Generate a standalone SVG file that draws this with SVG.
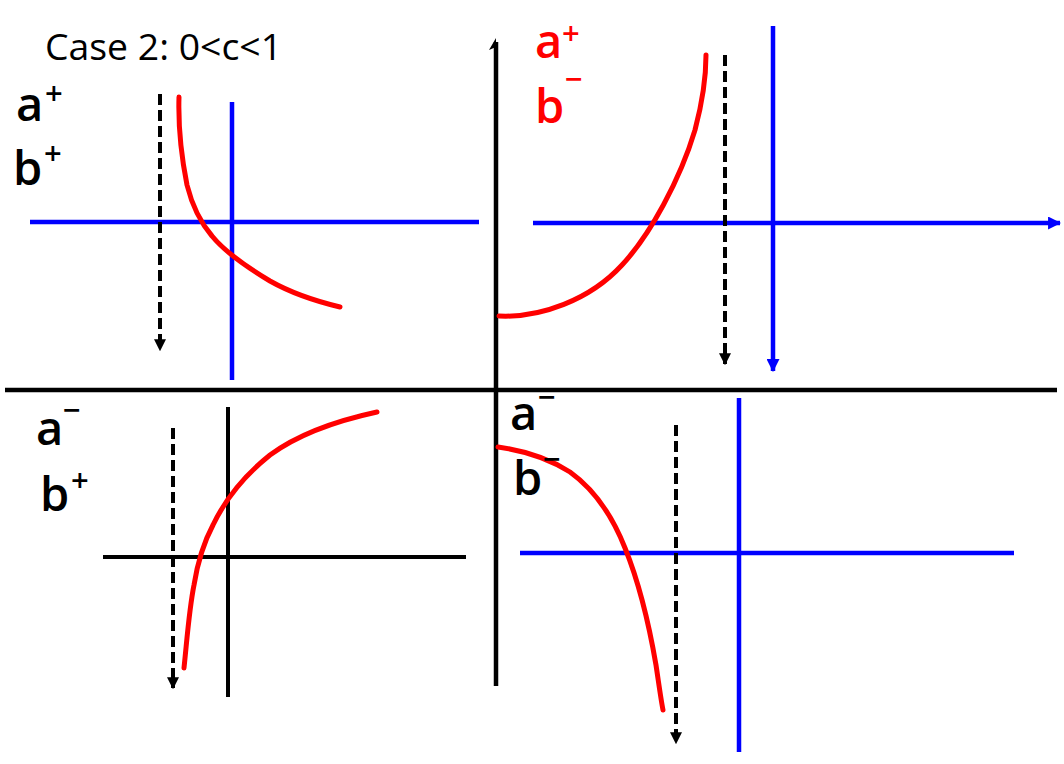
<svg xmlns="http://www.w3.org/2000/svg" width="1064" height="764" viewBox="0 0 1064 764">
<defs>
<style>
.ax{stroke:#000;stroke-width:4.5;fill:none}
.bl{stroke:#0000ff;stroke-width:4.5;fill:none}
.bk{stroke:#000;stroke-width:4;fill:none}
.da{stroke:#000;stroke-width:4;fill:none;stroke-dasharray:11 5}
.rd{stroke:#ff0000;stroke-width:5;fill:none;stroke-linecap:round;stroke-linejoin:round}
.t{font-family:"Open Sans","DejaVu Sans",sans-serif;fill:#000}
.r{fill:#ff0000}
.lbl{font-size:47px;font-weight:600}
.sg{font-size:31px;font-weight:600}
</style>
<marker id="ka" viewBox="0 0 10 10" refX="9" refY="5" markerWidth="12" markerHeight="12" markerUnits="userSpaceOnUse" orient="auto">
<path d="M0,0 L10,5 L0,10 Z" fill="#000"/>
</marker>
<marker id="ba" viewBox="0 0 12 12" refX="11" refY="6" markerWidth="13" markerHeight="13" markerUnits="userSpaceOnUse" orient="auto">
<path d="M0,0 L12,6 L0,12 Z" fill="#0000ff"/>
</marker>
</defs>
<rect width="1064" height="764" fill="#fff"/>
<g id="connectors">
<line class="ax" x1="5" y1="390" x2="1057" y2="390"/>
<line class="ax" x1="496" y1="42" x2="496" y2="686"/>
<path d="M496,38 L489,50 L496,47 Z" fill="#000"/>
<line class="bl" x1="30" y1="222" x2="479" y2="222"/>
<line class="bl" x1="232" y1="102" x2="232" y2="380"/>
<line class="da" x1="160" y1="94" x2="160" y2="350" marker-end="url(#ka)"/>
<path class="rd" d="M179,97 C178,130 182,160 187,185 C192,205 200,222 212,236 C225,252 245,266 270,281 C293,294 315,301 340,307"/>
<line class="bl" x1="533" y1="223" x2="1060" y2="223" marker-end="url(#ba)"/>
<line class="bl" x1="773" y1="26" x2="773" y2="371" marker-end="url(#ba)"/>
<line class="da" x1="725" y1="55" x2="725" y2="364" marker-end="url(#ka)"/>
<path class="rd" d="M499,316 C540,318 590,300 622,265 C650,235 680,180 695,130 C703,100 706,75 706,55"/>
<line class="bk" x1="103" y1="557" x2="466" y2="557"/>
<line class="bk" x1="228" y1="407" x2="228" y2="697"/>
<line class="da" x1="173" y1="428" x2="173" y2="688" marker-end="url(#ka)"/>
<path class="rd" d="M184,668 C187,640 189,610 194,585 C198,560 205,540 213,525 C225,500 245,475 270,455 C300,433 340,420 377,412"/>
<line class="bl" x1="520" y1="553" x2="1014" y2="553"/>
<line class="bl" x1="739" y1="398" x2="739" y2="752"/>
<line class="da" x1="676" y1="425" x2="676" y2="743" marker-end="url(#ka)"/>
<path class="rd" d="M498,447 C520,450 545,456 570,472 C595,490 612,515 625,548 C640,585 650,630 656,665 C659,685 661,700 663,710"/>
</g>
<g id="title">
<text class="t" x="45" y="60" font-size="36" textLength="237" lengthAdjust="spacingAndGlyphs">Case 2: 0&lt;c&lt;1</text>
</g>
<g id="label-tl">
<text class="t lbl" x="16" y="121">a</text>
<text class="t sg" x="45" y="104">+</text>
<text class="t lbl" x="13" y="185">b</text>
<text class="t sg" x="44" y="164">+</text>
</g>
<g id="label-tr">
<text class="t lbl r" x="535" y="58">a</text>
<text class="t sg r" x="562" y="44">+</text>
<text class="t lbl r" x="535" y="123">b</text>
<text class="t sg r" x="565" y="90">−</text>
</g>
<g id="label-bl">
<text class="t lbl" x="36" y="445">a</text>
<text class="t sg" x="63" y="421">−</text>
<text class="t lbl" x="40" y="511">b</text>
<text class="t sg" x="71" y="491">+</text>
</g>
<g id="label-br">
<text class="t lbl" x="510" y="430">a</text>
<text class="t sg" x="538" y="408">−</text>
<text class="t lbl" x="513" y="495">b</text>
<text class="t sg" x="543" y="470">−</text>
</g>
</svg>
